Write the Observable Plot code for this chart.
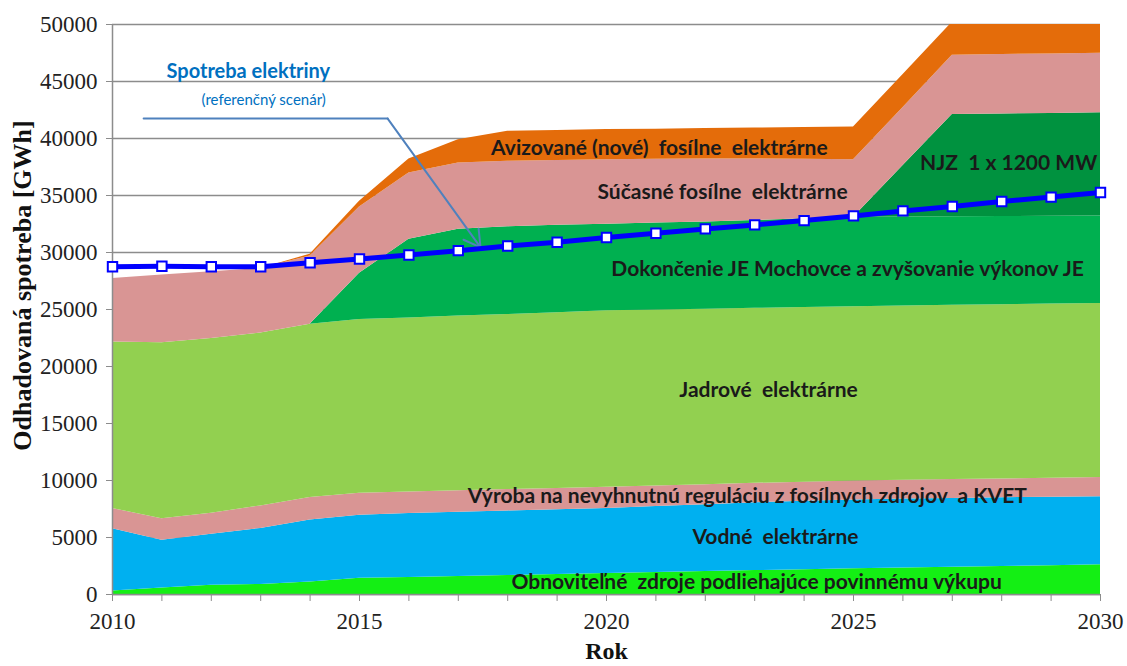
<!DOCTYPE html>
<html>
<head>
<meta charset="utf-8">
<script src="https://cdn.jsdelivr.net/npm/d3@7"></script>
<script src="https://cdn.jsdelivr.net/npm/@observablehq/plot@0.6"></script>
<style>
  body { margin: 0; background: #ffffff; }
  #chart svg { display: block; }
</style>
</head>
<body>
<div id="chart"></div>
<script>
// ---- Data (GWh) ----
const years = [2010,2011,2012,2013,2014,2015,2016,2017,2018,2019,2020,2021,2022,2023,2024,2025,2026,2027,2028,2029,2030];

// layer thicknesses, bottom to top
const obnovitelne = [300,580,820,880,1100,1420,1500,1580,1660,1750,1850,1930,2010,2100,2170,2250,2320,2390,2460,2530,2600];
const vodne       = [5470,4170,4460,4920,5440,5530,5600,5640,5670,5690,5700,5790,5870,5950,6010,6050,6050,6040,6030,6000,5970];
const regulacia   = [1770,1900,1850,1970,1960,1940,1900,1880,1870,1860,1850,1800,1750,1700,1670,1650,1650,1650,1650,1670,1690];
const jadrove     = [14610,15440,15320,15170,15200,15230,15260,15320,15360,15420,15480,15430,15400,15350,15330,15300,15290,15290,15280,15280,15270];
const dokoncenie  = [0,0,0,0,0,4050,6900,7630,7690,7660,7600,7630,7650,7700,7770,7850,7810,7770,7740,7700,7670];
const njz         = [0,0,0,0,0,0,0,0,0,0,0,0,0,0,0,0,4480,8960,8990,9020,9050];
const sucasne     = [5580,5930,5860,5660,5990,5830,5810,5800,5750,5690,5660,5590,5520,5400,5220,5040,5100,5200,5220,5220,5220];
const avizovane   = [0,0,0,0,160,500,1230,2050,2640,2630,2640,2650,2670,2720,2790,2860,2900,2900,2930,2930,2930];

// consumption line (reference scenario)
const spotreba = [28750,28790,28750,28750,29100,29430,29780,30160,30570,30900,31310,31690,32070,32420,32800,33210,33650,34030,34470,34860,35260];

const layerNames = [
  "Obnoviteľné zdroje podliehajúce povinnému výkupu",
  "Vodné elektrárne",
  "Výroba na nevyhnutnú reguláciu z fosílnych zdrojov a KVET",
  "Jadrové elektrárne",
  "Dokončenie JE Mochovce a zvyšovanie výkonov JE",
  "NJZ 1 x 1200 MW",
  "Súčasné fosílne elektrárne",
  "Avizované (nové) fosílne elektrárne"
];
const layerColors = ["#14ef14","#00b0f0","#d99594","#92d050","#00b050","#00923f","#d99594","#e46c0a"];
const layerSeries = [obnovitelne, vodne, regulacia, jadrove, dokoncenie, njz, sucasne, avizovane];

const yTicks = [0,5000,10000,15000,20000,25000,30000,35000,40000,45000,50000];

// label texts and their anchor positions (year, GWh)
const labelTexts = [
  "Avizované (nové)  fosílne  elektrárne",
  "Súčasné fosílne  elektrárne",
  "NJZ  1 x 1200 MW",
  "Dokončenie JE Mochovce a zvyšovanie výkonov JE",
  "Jadrové  elektrárne",
  "Výroba na nevyhnutnú reguláciu z fosílnych zdrojov  a KVET",
  "Vodné  elektrárne",
  "Obnoviteľné  zdroje podliehajúce povinnému výkupu"
];
const labelYears  = [2021.07, 2022.35, 2028.14, 2024.88, 2023.28, 2022.85, 2023.42, 2023.04];
const labelValues = [39150, 35250, 37800, 28550, 17900, 8650, 5000, 1050];

const noteTitle = "Spotreba elektriny";
const noteSub = "(referenčný scenár)";
const noteYears = [2012.75, 2013.06];
const noteValues = [45850, 43380];
const calloutYears = [2010.63, 2015.57, 2017.45];
const calloutValues = [41750, 41750, 30450];

// ---- tidy tables built from the arrays ----
const table = [];
layerSeries.forEach((vals, i) => vals.forEach((v, j) => table.push({year: years[j], layer: layerNames[i], value: v})));
const lineData = years.map((y, i) => ({year: y, value: spotreba[i]}));
const labels = labelTexts.map((t, i) => ({text: t, x: labelYears[i], y: labelValues[i]}));
const calloutLine = [0, 1].map(i => ({x: calloutYears[i], y: calloutValues[i]}));
const calloutArrow = [{x1: calloutYears[1], y1: calloutValues[1], x2: calloutYears[2], y2: calloutValues[2]}];

const serif = "'Liberation Serif', 'Times New Roman', serif";
const sans = "Lato, 'Open Sans', sans-serif";

const chart = Plot.plot({
  width: 1127,
  height: 666,
  marginLeft: 112,
  marginRight: 27,
  marginTop: 24,
  marginBottom: 72,
  style: {fontFamily: serif, fontSize: "23px", background: "#ffffff", color: "#222"},
  x: {domain: [2010, 2030], label: null},
  y: {domain: [0, 50000], label: null},
  color: {domain: layerNames, range: layerColors},
  marks: [
    Plot.ruleY(yTicks, {stroke: "#8c8c8c", strokeWidth: 1.5}),
    Plot.areaY(table, Plot.stackY({x: "year", y: "value", z: "layer", fill: "layer", order: layerNames, clip: true})),
    Plot.ruleX([2010], {stroke: "#8c8c8c", strokeWidth: 1.5}),
    Plot.ruleY([0], {stroke: "#8c8c8c", strokeWidth: 1.5}),
    Plot.axisY({ticks: yTicks, tickSize: 6, tickPadding: 9, tickFormat: d => String(d), label: null, stroke: "#8c8c8c", fill: "#222", fontSize: 23}),
    Plot.axisX({ticks: years, tickSize: 7, tickPadding: 11, tickFormat: d => d % 5 === 0 ? String(d) : "", label: null, stroke: "#8c8c8c", fill: "#222", fontSize: 23}),
    Plot.text(labels, {x: "x", y: "y", text: "text", fontFamily: sans, fontSize: 21, fontWeight: "bold", fill: "#1a1a1a"}),
    Plot.line(calloutLine, {x: "x", y: "y", stroke: "#4f81bd", strokeWidth: 2}),
    Plot.arrow(calloutArrow, {x1: "x1", y1: "y1", x2: "x2", y2: "y2", stroke: "#4f81bd", strokeWidth: 2, headLength: 14, bend: 0}),
    Plot.line(lineData, {x: "year", y: "value", stroke: "#0000ff", strokeWidth: 5}),
    Plot.dot(lineData, {x: "year", y: "value", symbol: "square", r: 5.3, fill: "#ffffff", stroke: "#0000ff", strokeWidth: 2}),
    Plot.text([noteTitle], {x: [noteYears[0]], y: [noteValues[0]], fontFamily: sans, fontSize: 20, fontWeight: "bold", fill: "#0070c0"}),
    Plot.text([noteSub], {x: [noteYears[1]], y: [noteValues[1]], fontFamily: sans, fontSize: 15, fill: "#0070c0"}),
    Plot.text(["Odhadovaná spotreba [GWh]"], {frameAnchor: "left", textAnchor: "middle", rotate: -90, dx: -90, dy: -24, fontFamily: serif, fontSize: 26, fontWeight: "bold", fill: "#111"}),
    Plot.text(["Rok"], {frameAnchor: "bottom", dy: 64, fontFamily: serif, fontSize: 24, fontWeight: "bold", fill: "#111"})
  ]
});
document.getElementById("chart").appendChild(chart);
</script>
</body>
</html>
